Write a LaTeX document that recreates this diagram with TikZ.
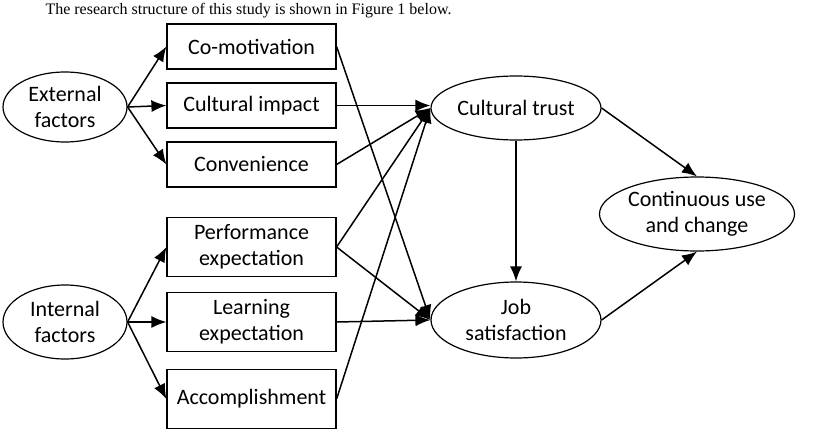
\documentclass[tikz,border=0pt]{standalone}
\usepackage{fontspec}
\setmainfont{Carlito}
\newfontfamily\capfont{Liberation Serif}
\usetikzlibrary{shapes.geometric,arrows.meta}

\begin{document}
\begin{tikzpicture}[x=1pt,y=-1pt,
  every node/.style={font=\fontsize{22}{26}\selectfont,align=center},
  factor/.style={draw,line width=1.2pt,rectangle,minimum width=169pt,inner sep=0pt},
  latent/.style={draw,line width=1.2pt,ellipse,inner sep=0pt},
  link/.style={line width=1.5pt,-{Latex[length=15pt,width=12pt]}}]

\useasboundingbox (0,0) rectangle (829,436);

\node[anchor=west,font=\capfont\fontsize{16}{18}\selectfont] (title) at (42,11) {The research structure of this study is shown in Figure 1 below.};

% exogenous groups
\node[latent,minimum width=124pt,minimum height=70pt] (ext) at (65,107) {External\\factors};
\node[latent,minimum width=124pt,minimum height=74pt] (int) at (65,322) {Internal\\factors};

% observed factors
\node[factor,minimum height=45pt] (como) at (251.5,46.5) {Co-motivation};
\node[factor,minimum height=45pt] (cimp) at (251.5,105.5) {Cultural impact};
\node[factor,minimum height=45pt] (conv) at (251.5,164.5) {Convenience};
\node[factor,minimum height=59pt] (perf) at (251.5,247) {Performance\\expectation};
\node[factor,minimum height=59pt] (lear) at (251.5,322) {Learning\\expectation};
\node[factor,minimum height=59pt] (acco) at (251.5,399) {Accomplishment};

% outcomes
\node[latent,minimum width=170pt,minimum height=64pt] (trust) at (516,108) {Cultural trust};
\node[latent,minimum width=170pt,minimum height=76pt] (job) at (516,320) {Job\\satisfaction};
\node[latent,minimum width=170pt,minimum height=74pt] (cont) at (697,214) {Continuous use\\and change};

\draw[link] (ext.east) -- (como.west);
\draw[link] (ext.east) -- (cimp.west);
\draw[link] (ext.east) -- (conv.west);
\draw[link] (int.east) -- (perf.west);
\draw[link] (int.east) -- (lear.west);
\draw[link] (int.east) -- (acco.west);

\draw[link] (como.east) -- (job.west);
\draw[link] (cimp.east) -- (trust.west |- cimp.east);
\draw[link] (conv.east) -- (trust.west);
\draw[link] (perf.east) -- (trust.west);
\draw[link] (perf.east) -- (job.west);
\draw[link] (lear.east) -- (job.west);
\draw[link] (acco.east) -- (trust.west);

\draw[link] (trust.south) -- (job.north);
\draw[link] (trust.east) -- (cont.north);
\draw[link] (job.east) -- (cont.south);

\end{tikzpicture}
\end{document}
